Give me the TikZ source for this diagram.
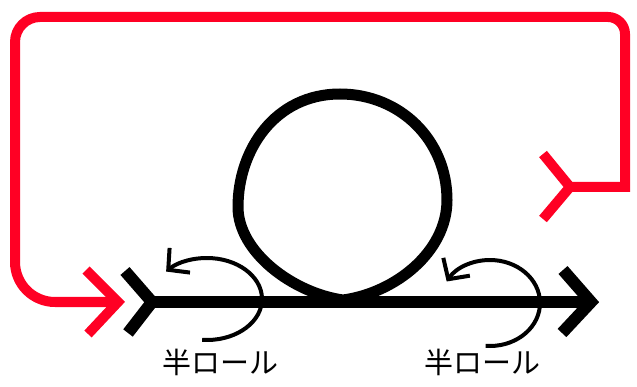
\documentclass[tikz,border=0pt]{standalone}
\usepackage{fontspec}
\newfontfamily\cjk{Noto Sans CJK JP}
\usetikzlibrary{arrows.meta}
\definecolor{rollred}{RGB}{255,0,36}
\begin{document}
\begin{tikzpicture}[x=1pt,y=-1pt,
  redline/.style={draw=rollred,line width=10pt,line join=miter},
  blackline/.style={draw=black,line width=12pt,line join=miter},
  loopline/.style={draw=black,line width=11pt},
  rollarc/.style={draw=black,line width=4pt,-{Straight Barb[length=15pt,width=32pt]}},
  lbl/.style={font=\cjk\fontsize{29}{32}\selectfont,inner sep=0pt}]
\useasboundingbox (0,0) rectangle (637,387);
% red return path
\draw[redline] (570,187) -- (625,187) [rounded corners=17pt] -- (625,17) [rounded corners=25pt] -- (15,17) [rounded corners=40pt] -- (15,302) [rounded corners=25pt] -- (118,302);
\draw[redline] (543,154) -- (570,187) -- (543,219);
\draw[redline] (86,270) -- (118,302) -- (88,334);
% black main line
\draw[blackline] (152,302) -- (591,302);
\draw[blackline] (125,271) -- (152,302) -- (128,333);
\draw[blackline] (563,270) -- (591,302) -- (562,333);
% loop
\draw[loopline] (315,302.5) .. controls (326,302.5) and (333,301.5) .. (343,300)
  .. controls (395,293) and (447,252) .. (447,200)
  .. controls (447,140) and (400,94) .. (340,94)
  .. controls (275,94) and (238,150) .. (238,207)
  .. controls (238,252) and (293,293) .. (343,300)
  .. controls (353,301.5) and (360,302.5) .. (371,302.5);
% half roll arcs
\draw[rollarc] (207,299) ++(95:55 and 41) arc[start angle=95,end angle=-138,x radius=55,y radius=41];
\draw[rollarc] (490,303) ++(95:50 and 43) arc[start angle=95,end angle=-150,x radius=50,y radius=43];
\node[lbl] (l1) at (220,362) {半ロール};
\node[lbl] (l2) at (482,362) {半ロール};
\end{tikzpicture}
\end{document}
